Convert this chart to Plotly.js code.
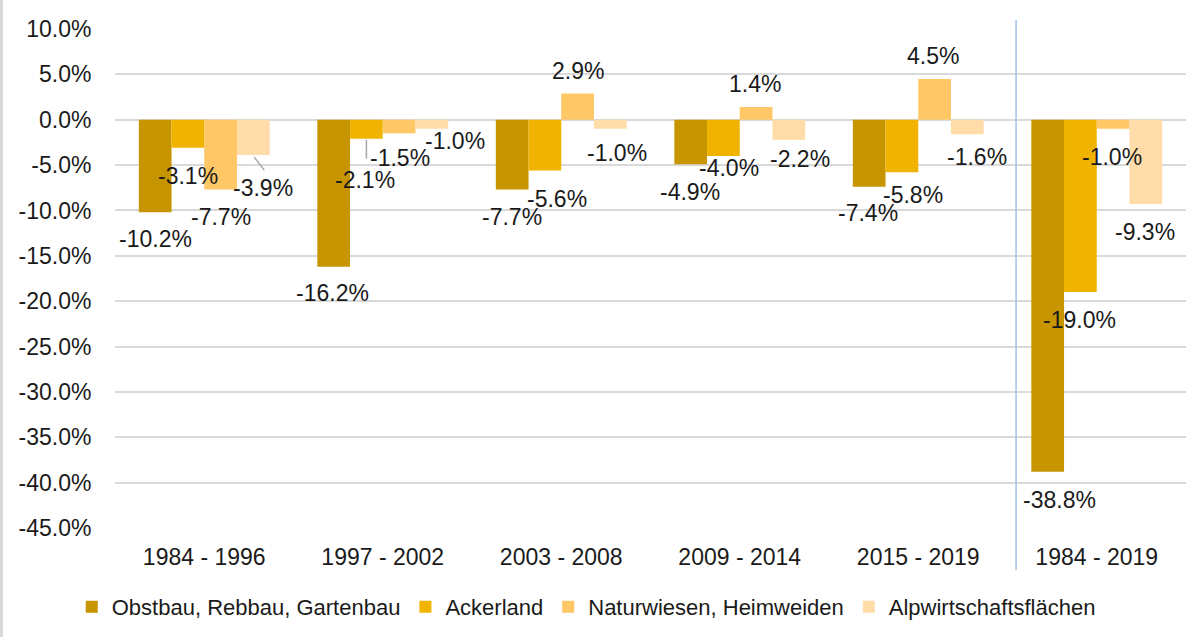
<!DOCTYPE html>
<html>
<head>
<meta charset="utf-8">
<script src="https://cdn.plot.ly/plotly-3.0.1.min.js"></script>
<style>
  html, body { margin: 0; padding: 0; background: #fff; }
  #chart { width: 1192px; height: 637px; border-left: 3px solid #D9D9D9; }
</style>
</head>
<body>
<div id="chart"></div>
<script>
// ---- data ----
const categories = ['1984 - 1996', '1997 - 2002', '2003 - 2008', '2009 - 2014', '2015 - 2019', '1984 - 2019'];
const seriesNames = ['Obstbau, Rebbau, Gartenbau', 'Ackerland', 'Naturwiesen, Heimweiden', 'Alpwirtschaftsflächen'];
const obstbau = [-10.2, -16.2, -7.7, -4.9, -7.4, -38.8];
const ackerland = [-3.1, -2.1, -5.6, -4.0, -5.8, -19.0];
const naturwiesen = [-7.7, -1.5, 2.9, 1.4, 4.5, -1.0];
const alpwirtschaft = [-3.9, -1.0, -1.0, -2.2, -1.6, -9.3];
const tickValues = [10, 5, 0, -5, -10, -15, -20, -25, -30, -35, -40, -45];
const tickLabels = ['10.0%', '5.0%', '0.0%', '-5.0%', '-10.0%', '-15.0%', '-20.0%', '-25.0%', '-30.0%', '-35.0%', '-40.0%', '-45.0%'];

// ---- styling ----
const colors = ['#C69500', '#F0B400', '#FFC765', '#FFDCA8'];
const FONT = 'Liberation Sans, Arial, sans-serif';
const allSeries = [obstbau, ackerland, naturwiesen, alpwirtschaft];
const barOffsetPx = [-49, -16.35, 16.35, 49];

// label offsets (pixels) relative to bar centre / bar end: [dx, dy] with dy downward
const labelOffsets = [
  [[0, 27], [-1, 26], [0, 27], [-1, 28], [-1, 26], [12, 28]],
  [[0, 28], [-1, 41], [12, 28], [6, 12], [11, 23], [-1, 28]],
  [[0, 27], [1, 25], [0, -22], [-1, -23], [-2, -23], [-1, 28]],
  [[10, 33], [23, 12], [7, 24], [11, 19], [10, 23], [-1, 28]]
];

const traces = allSeries.map((vals, k) => ({
  type: 'bar',
  name: seriesNames[k],
  x: categories,
  y: vals,
  marker: { color: colors[k] },
  hoverinfo: 'skip'
}));

const annotations = [];
allSeries.forEach((vals, k) => {
  vals.forEach((v, i) => {
    const off = labelOffsets[k][i];
    const a = {
      x: categories[i], y: v, xref: 'x', yref: 'y',
      xshift: barOffsetPx[k] + off[0], yshift: -off[1],
      text: v.toFixed(1) + '%',
      showarrow: false, xanchor: 'center', yanchor: 'middle',
      font: { family: FONT, size: 23, color: '#1a1a1a' }
    };
    if (k === 0 && i === 5) { a.bgcolor = '#ffffff'; a.borderpad = 2; }
    annotations.push(a);
  });
});

// leader lines (pixel offsets anchored to bar ends)
const shapes = [];
shapes.push({
  type: 'line', xref: 'x', yref: 'y', xsizemode: 'pixel', ysizemode: 'pixel',
  xanchor: 0, yanchor: alpwirtschaft[0],
  x0: barOffsetPx[3] + 1, x1: barOffsetPx[3] + 11, y0: -2, y1: -15,
  line: { color: '#A6A6A6', width: 1.5 }
});
shapes.push({
  type: 'line', xref: 'x', yref: 'y', xsizemode: 'pixel', ysizemode: 'pixel',
  xanchor: 1, yanchor: ackerland[1],
  x0: barOffsetPx[1], x1: barOffsetPx[1], y0: -1, y1: -20,
  line: { color: '#A6A6A6', width: 1.5 }
});
// separator line between periods and total
shapes.push({
  type: 'line', xref: 'x', yref: 'paper',
  x0: 4.548, x1: 4.548, y0: -0.084, y1: 1.018,
  line: { color: '#9DC3E6', width: 1.5 }, layer: 'above'
});

const layout = {
  width: 1192, height: 637,
  margin: { l: 112, r: 9, t: 29, b: 109 },
  paper_bgcolor: '#ffffff', plot_bgcolor: '#ffffff',
  barmode: 'group', bargap: 0.267, bargroupgap: 0,
  font: { family: FONT, size: 23, color: '#1a1a1a' },
  showlegend: true,
  legend: {
    orientation: 'h', x: 0.44, xanchor: 'center', y: -0.158, yanchor: 'middle',
    font: { family: FONT, size: 22, color: '#1a1a1a' },
    traceorder: 'normal', itemclick: false, itemdoubleclick: false
  },
  xaxis: {
    type: 'category', showgrid: false, showline: false, zeroline: false,
    ticks: 'outside', ticklen: 8, tickcolor: 'rgba(0,0,0,0)',
    tickfont: { family: FONT, size: 23, color: '#1a1a1a' }
  },
  yaxis: {
    range: [-45, 10], tickmode: 'array', tickvals: tickValues, ticktext: tickLabels,
    showgrid: true, gridcolor: '#D9D9D9', gridwidth: 2, zeroline: false, showline: false,
    ticks: 'outside', ticklen: 18, tickcolor: 'rgba(0,0,0,0)',
    tickfont: { family: FONT, size: 23, color: '#1a1a1a' }
  },
  annotations: annotations,
  shapes: shapes
};

Plotly.newPlot('chart', traces, layout, { staticPlot: true, displayModeBar: false });
</script>
</body>
</html>
